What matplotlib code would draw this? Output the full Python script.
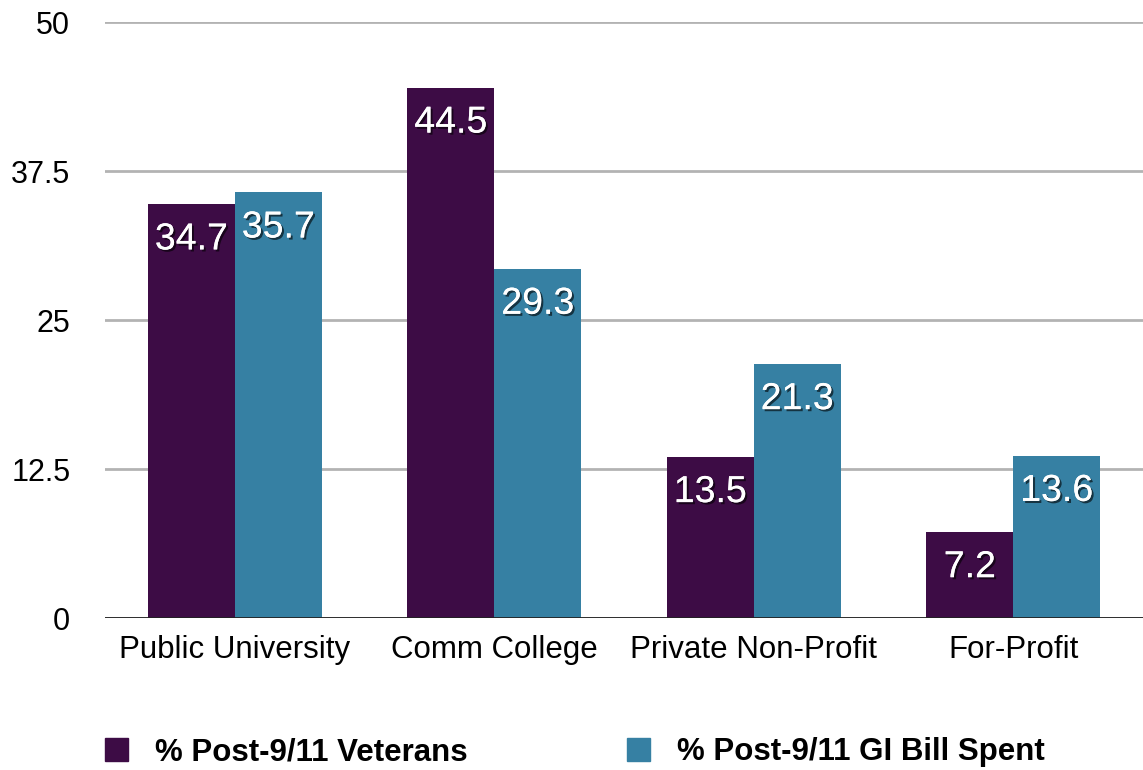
import matplotlib
matplotlib.use("Agg")
import matplotlib.pyplot as plt
import matplotlib.patheffects as pe
import numpy as np

categories = ["Public University", "Comm College", "Private Non-Profit", "For-Profit"]
veterans = [34.7, 44.5, 13.5, 7.2]
gi_bill = [35.7, 29.3, 21.3, 13.6]
series_names = ["% Post-9/11 Veterans", "% Post-9/11 GI Bill Spent"]
yticks = [0, 12.5, 25, 37.5, 50]
ytick_labels = ["0", "12.5", "25", "37.5", "50"]

plt.rcParams['font.family'] = ['Liberation Sans', 'DejaVu Sans']
purple = "#3d0c45"
teal = "#3680a3"

fig = plt.figure(figsize=(11.43, 7.7), dpi=100)
ax = fig.add_axes([0.0919, 0.1974, 0.9081, 0.774])

x = np.arange(len(categories))
w = 0.335
b1 = ax.bar(x - w/2, veterans, w, color=purple, zorder=3)
b2 = ax.bar(x + w/2, gi_bill, w, color=teal, zorder=3)

ax.set_xlim(-0.5, len(categories) - 0.5)
ax.set_ylim(0, 50)
ax.set_yticks(yticks)
ax.set_yticklabels(ytick_labels, fontsize=22)
ax.set_xticks(x)
ax.set_xticklabels(categories, fontsize=22.5)
ax.tick_params(axis='y', length=0, pad=25)
ax.tick_params(axis='x', length=0, pad=12)
for s in ax.spines.values():
    s.set_visible(False)
ax.grid(axis='y', color='#b3b3b3', linewidth=2, zorder=0)
ax.axhline(0, color='#222222', linewidth=2, zorder=4)
ax.set_axisbelow(True)

effects = [pe.withSimplePatchShadow(offset=(1.5, -1.5), shadow_rgbFace='black', alpha=0.6),
           pe.Normal()]
for bars, vals in ((b1, veterans), (b2, gi_bill)):
    for bar, v in zip(bars, vals):
        ax.annotate(f"{v}", (bar.get_x() + bar.get_width()/2, v),
                    xytext=(0, -35), textcoords='offset pixels',
                    ha='center', va='center', color='white', fontsize=27,
                    zorder=5, path_effects=effects)

handles = [plt.Rectangle((0, 0), 1, 1, color=purple), plt.Rectangle((0, 0), 1, 1, color=teal)]
fig.legend(handles, series_names, loc='center left', bbox_to_anchor=(0.067, 0.023),
           ncol=2, frameon=False, handlelength=0.75, handleheight=0.75, handletextpad=0.85,
           columnspacing=5.1, prop={'weight': 'bold', 'size': 22.5})

fig.savefig("out.png", dpi=100)
